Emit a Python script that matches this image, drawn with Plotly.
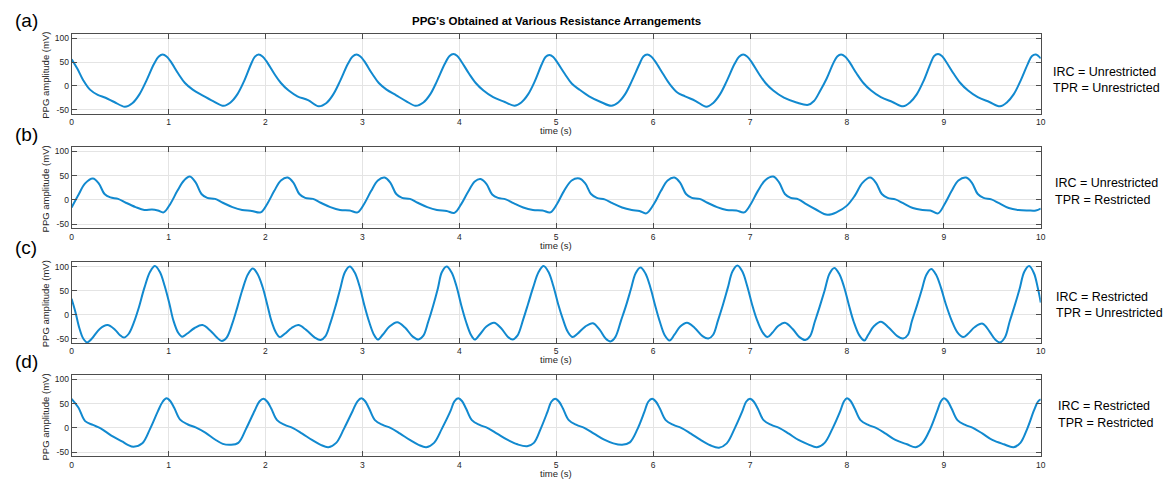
import plotly.graph_objects as go

# ---------------- data ----------------
TIME_TICKS = [0, 1, 2, 3, 4, 5, 6, 7, 8, 9, 10]
AMP_TICKS = [-50, 0, 50, 100]

# (a) IRC = Unrestricted, TPR = Unrestricted
t_a = [0.00, 0.06, 0.12, 0.19, 0.27, 0.35, 0.44, 0.55, 0.63, 0.70, 0.77, 0.85, 0.90, 0.94,
       0.98, 1.02, 1.10, 1.17, 1.25, 1.35, 1.46, 1.57, 1.64, 1.71, 1.78, 1.85, 1.89, 1.93,
       1.97, 2.01, 2.09, 2.16, 2.24, 2.33, 2.44, 2.55, 2.63, 2.70, 2.77, 2.85, 2.90, 2.94,
       2.98, 3.02, 3.10, 3.17, 3.25, 3.35, 3.45, 3.55, 3.63, 3.70, 3.77, 3.85, 3.90, 3.94,
       3.98, 4.02, 4.10, 4.17, 4.25, 4.35, 4.47, 4.57, 4.64, 4.71, 4.78, 4.85, 4.89, 4.93,
       4.97, 5.01, 5.09, 5.16, 5.24, 5.34, 5.46, 5.57, 5.64, 5.71, 5.78, 5.86, 5.90, 5.94,
       5.98, 6.02, 6.10, 6.17, 6.25, 6.33, 6.44, 6.55, 6.62, 6.69, 6.76, 6.84, 6.89, 6.93,
       6.97, 7.01, 7.09, 7.16, 7.24, 7.35, 7.48, 7.60, 7.66, 7.72, 7.79, 7.86, 7.90, 7.94,
       7.98, 8.02, 8.10, 8.17, 8.25, 8.35, 8.47, 8.58, 8.65, 8.72, 8.79, 8.86, 8.90, 8.94,
       8.98, 9.02, 9.10, 9.17, 9.25, 9.35, 9.47, 9.58, 9.65, 9.72, 9.79, 9.87, 9.91, 9.95, 10.00]
v_a = [56, 36, 12, -8, -19, -25, -34, -44, -36, -18, 10, 46, 62, 66,
       62, 52, 26, 6, -8, -20, -32, -42, -35, -18, 10, 45, 61, 66,
       62, 52, 26, 6, -10, -22, -30, -43, -36, -18, 10, 46, 62, 66,
       62, 52, 26, 6, -8, -20, -32, -42, -35, -18, 10, 46, 63, 67,
       63, 52, 26, 6, -10, -24, -34, -42, -35, -18, 10, 45, 61, 65,
       61, 50, 25, 5, -8, -22, -34, -42, -35, -18, 10, 46, 62, 66,
       62, 52, 26, 4, -14, -22, -32, -44, -36, -18, 10, 46, 62, 66,
       62, 52, 26, 6, -10, -25, -35, -40, -32, -12, 15, 48, 62, 66,
       62, 52, 26, 6, -10, -24, -34, -43, -35, -18, 10, 46, 63, 67,
       63, 52, 26, 6, -10, -24, -34, -43, -35, -18, 10, 48, 63, 66, 58]

# (b) IRC = Unrestricted, TPR = Restricted
t_b = [0.00, 0.07, 0.14, 0.22, 0.28, 0.34, 0.40, 0.48, 0.56, 0.66, 0.75, 0.83, 0.89, 0.95,
       1.02, 1.09, 1.16, 1.22, 1.28, 1.34, 1.40, 1.48, 1.56, 1.66, 1.76, 1.86, 1.95,
       2.02, 2.09, 2.16, 2.23, 2.29, 2.35, 2.41, 2.49, 2.57, 2.67, 2.77, 2.87, 2.95,
       3.02, 3.09, 3.16, 3.23, 3.29, 3.35, 3.41, 3.49, 3.57, 3.67, 3.77, 3.87, 3.95,
       4.02, 4.09, 4.16, 4.22, 4.28, 4.34, 4.40, 4.48, 4.56, 4.66, 4.76, 4.86, 4.94,
       5.01, 5.08, 5.16, 5.24, 5.30, 5.36, 5.42, 5.50, 5.58, 5.68, 5.78, 5.86, 5.93,
       6.01, 6.08, 6.15, 6.22, 6.28, 6.34, 6.40, 6.48, 6.56, 6.66, 6.76, 6.86, 6.94,
       7.01, 7.08, 7.16, 7.24, 7.30, 7.36, 7.42, 7.50, 7.58, 7.68, 7.80, 7.90,
       8.00, 8.08, 8.16, 8.24, 8.30, 8.36, 8.42, 8.50, 8.58, 8.68, 8.78, 8.86, 8.94,
       9.01, 9.08, 9.15, 9.23, 9.29, 9.35, 9.41, 9.49, 9.57, 9.67, 9.77, 9.87, 9.95, 10.00]
v_b = [-16, 10, 34, 44, 34, 12, 5, 2, -6, -15, -21, -20, -22, -26,
       -8, 18, 40, 48, 36, 12, 4, 2, -6, -15, -21, -23, -26,
       -8, 18, 40, 46, 35, 12, 4, 2, -6, -15, -21, -22, -26,
       -8, 18, 40, 46, 35, 12, 4, 2, -6, -15, -21, -23, -27,
       -9, 16, 38, 43, 33, 11, 4, 1, -7, -16, -21, -22, -26,
       -8, 18, 40, 44, 34, 12, 4, 1, -7, -16, -21, -23, -28,
       -8, 18, 40, 46, 35, 12, 4, 2, -6, -15, -21, -22, -26,
       -8, 18, 41, 48, 36, 12, 4, 1, -9, -20, -31, -25,
       -12, 8, 35, 46, 35, 12, 4, 1, -7, -17, -21, -22, -28,
       -8, 18, 40, 46, 35, 12, 4, 1, -7, -17, -21, -22, -22, -18]

# (c) IRC = Restricted, TPR = Unrestricted
t_c = [0.00, 0.04, 0.08, 0.12, 0.16, 0.21, 0.29, 0.37, 0.45, 0.50, 0.54, 0.59, 0.64, 0.69, 0.75, 0.81, 0.86,
       0.91, 0.96, 1.01, 1.05, 1.10, 1.14, 1.19, 1.27, 1.35, 1.43, 1.50, 1.55, 1.60, 1.66, 1.71, 1.76, 1.82, 1.87,
       1.92, 1.97, 2.02, 2.06, 2.11, 2.15, 2.20, 2.27, 2.34, 2.42, 2.51, 2.57, 2.62, 2.67, 2.72, 2.77, 2.82, 2.87,
       2.92, 2.97, 3.02, 3.07, 3.12, 3.16, 3.21, 3.28, 3.36, 3.44, 3.52, 3.58, 3.63, 3.68, 3.73, 3.78, 3.82, 3.87,
       3.92, 3.97, 4.02, 4.07, 4.12, 4.16, 4.21, 4.28, 4.36, 4.43, 4.50, 4.55, 4.60, 4.66, 4.71, 4.76, 4.82, 4.87,
       4.92, 4.97, 5.02, 5.07, 5.12, 5.17, 5.22, 5.30, 5.38, 5.45, 5.51, 5.56, 5.61, 5.67, 5.72, 5.77, 5.82, 5.87,
       5.92, 5.97, 6.02, 6.07, 6.12, 6.17, 6.22, 6.28, 6.35, 6.43, 6.51, 6.57, 6.62, 6.67, 6.72, 6.77, 6.82, 6.87,
       6.92, 6.97, 7.02, 7.07, 7.13, 7.18, 7.23, 7.29, 7.36, 7.44, 7.51, 7.57, 7.62, 7.67, 7.72, 7.77, 7.82, 7.87,
       7.92, 7.97, 8.02, 8.07, 8.13, 8.18, 8.22, 8.28, 8.35, 8.43, 8.52, 8.58, 8.63, 8.67, 8.72, 8.77, 8.82, 8.87,
       8.92, 8.97, 9.02, 9.08, 9.14, 9.20, 9.25, 9.32, 9.40, 9.47, 9.53, 9.58, 9.63, 9.68, 9.73, 9.78, 9.83, 9.88,
       9.93, 9.97, 10.00]
v_c = [33, 5, -28, -50, -58, -50, -30, -22, -32, -43, -48, -40, -18, 12, 55, 89, 101,
       89, 60, 22, -12, -38, -46, -40, -28, -22, -33, -48, -55, -48, -18, 15, 50, 84, 96,
       84, 58, 20, -12, -38, -47, -40, -28, -22, -32, -48, -53, -45, -18, 15, 52, 88, 100,
       88, 60, 20, -15, -42, -52, -42, -25, -16, -27, -46, -52, -44, -15, 18, 55, 88, 100,
       88, 60, 20, -15, -42, -52, -42, -25, -17, -28, -46, -52, -44, -10, 22, 55, 89, 101,
       89, 60, 22, -10, -36, -47, -40, -25, -18, -32, -50, -56, -47, -12, 18, 52, 86, 98,
       86, 58, 20, -15, -43, -54, -42, -25, -17, -28, -45, -50, -42, -12, 20, 55, 90, 102,
       90, 60, 22, -10, -37, -47, -38, -24, -17, -30, -47, -53, -45, -14, 17, 50, 85, 97,
       85, 58, 20, -15, -44, -54, -42, -24, -15, -27, -45, -50, -42, -14, 17, 50, 83, 95,
       83, 56, 22, -12, -37, -47, -40, -26, -19, -35, -52, -58, -48, -14, 18, 52, 89, 101,
       86, 55, 25]

# (d) IRC = Restricted, TPR = Restricted
t_d = [0.00, 0.07, 0.14, 0.22, 0.30, 0.41, 0.52, 0.58, 0.64, 0.73, 0.81, 0.89, 0.94, 0.98,
       1.02, 1.06, 1.12, 1.20, 1.28, 1.38, 1.48, 1.56, 1.64, 1.72, 1.80, 1.89, 1.94, 1.98,
       2.02, 2.06, 2.12, 2.20, 2.28, 2.38, 2.48, 2.57, 2.65, 2.73, 2.81, 2.90, 2.95, 2.99,
       3.03, 3.07, 3.13, 3.21, 3.29, 3.39, 3.49, 3.58, 3.66, 3.74, 3.82, 3.91, 3.95, 3.99,
       4.03, 4.07, 4.13, 4.21, 4.29, 4.39, 4.49, 4.60, 4.70, 4.77, 4.84, 4.91, 4.95, 4.99,
       5.03, 5.07, 5.13, 5.21, 5.29, 5.39, 5.49, 5.59, 5.68, 5.76, 5.84, 5.91, 5.95, 5.99,
       6.03, 6.07, 6.13, 6.21, 6.29, 6.39, 6.49, 6.59, 6.68, 6.76, 6.84, 6.92, 6.96, 7.00,
       7.04, 7.08, 7.14, 7.22, 7.30, 7.40, 7.50, 7.60, 7.69, 7.77, 7.85, 7.93, 7.97, 8.00,
       8.04, 8.08, 8.14, 8.22, 8.30, 8.40, 8.50, 8.62, 8.71, 8.78, 8.86, 8.93, 8.97, 9.00,
       9.04, 9.08, 9.14, 9.22, 9.30, 9.40, 9.50, 9.62, 9.72, 9.79, 9.86, 9.93, 9.97, 10.00]
v_d = [60, 42, 14, 6, -1, -16, -28, -35, -39, -32, -2, 34, 54, 61,
       55, 41, 17, 7, 1, -10, -24, -33, -35, -31, -2, 36, 55, 60,
       54, 40, 16, 6, 0, -12, -25, -35, -40, -31, -2, 35, 55, 61,
       55, 40, 16, 6, 0, -12, -25, -35, -40, -31, -2, 35, 55, 61,
       55, 40, 16, 6, 0, -12, -24, -34, -38, -31, -2, 33, 54, 60,
       54, 40, 16, 6, 0, -12, -24, -32, -35, -30, -2, 33, 54, 60,
       54, 40, 16, 6, 0, -12, -25, -36, -41, -32, -2, 34, 54, 60,
       54, 40, 16, 6, 0, -12, -25, -34, -40, -31, -2, 34, 55, 61,
       55, 40, 16, 6, 0, -12, -25, -34, -40, -31, -2, 34, 55, 61,
       55, 40, 16, 6, 0, -12, -25, -34, -40, -31, -2, 36, 54, 59]

SERIES = [(t_a, v_a), (t_b, v_b), (t_c, v_c), (t_d, v_d)]
PANEL_LABELS = ["(a)", "(b)", "(c)", "(d)"]
CONDITIONS = [("IRC = Unrestricted", "TPR = Unrestricted"),
              ("IRC = Unrestricted", "TPR = Restricted"),
              ("IRC = Restricted", "TPR = Unrestricted"),
              ("IRC = Restricted", "TPR = Restricted")]
TITLE = "PPG's Obtained at Various Resistance Arrangements"
X_TITLE = "time (s)"
Y_TITLE = "PPG amplitude (mV)"

# ---------------- layout (pixel geometry of the 1172x484 canvas) ----------------
W, H = 1172, 484
X0, X1 = 70, 1045
PANEL_TOPS = [33.3, 146.7, 262.3, 375.7]
PANEL_BOTS = [113.3, 228.3, 343.3, 457.3]
LABEL_Y = [20, 134, 248, 362]
COND_Y = [(71, 87.5), (183, 200), (297, 313.5), (407, 423.5)]
COND_X = [1055, 1057, 1058, 1060]

def px(x):
    return x / W

def py(y):
    return 1 - y / H

FONT = "Liberation Sans, Arial, Helvetica, sans-serif"
LINE_COLOR = "#1189cf"
AXIS_COLOR = "#4d4d4d"
GRID_COLOR = "#e4e4e4"
TEXT_COLOR = "#262626"

fig = go.Figure()
annotations = []
layout = dict(
    width=W, height=H,
    margin=dict(l=0, r=0, t=0, b=0),
    paper_bgcolor="white", plot_bgcolor="white",
    showlegend=False,
    font=dict(family=FONT, color=TEXT_COLOR),
)

for i, (tt, vv) in enumerate(SERIES):
    n = "" if i == 0 else str(i + 1)
    fig.add_trace(go.Scatter(
        x=tt, y=vv, mode="lines",
        line=dict(color=LINE_COLOR, width=2, shape="spline", smoothing=1.0),
        xaxis="x" + n, yaxis="y" + n, hoverinfo="skip",
    ))
    common = dict(
        showgrid=True, gridcolor=GRID_COLOR, gridwidth=1,
        zeroline=False, showline=True, linecolor=AXIS_COLOR, linewidth=1,
        mirror="ticks", ticks="inside", ticklen=5, tickcolor=AXIS_COLOR,
        tickwidth=1, tickfont=dict(size=8.5, color=TEXT_COLOR, family=FONT),
    )
    layout["xaxis" + n] = dict(
        domain=[px(X0), px(X1)], anchor="y" + n, range=[0, 10],
        tickmode="array", tickvals=TIME_TICKS,
        ticktext=[str(v) for v in TIME_TICKS], **common)
    layout["yaxis" + n] = dict(
        domain=[py(PANEL_BOTS[i]), py(PANEL_TOPS[i])], anchor="x" + n,
        range=[-59, 109], tickmode="array", tickvals=AMP_TICKS,
        ticktext=[str(v) for v in AMP_TICKS], **common)

    mid = (PANEL_TOPS[i] + PANEL_BOTS[i]) / 2
    annotations.append(dict(
        text=Y_TITLE, textangle=-90, x=px(44), y=py(mid + 1),
        xref="paper", yref="paper", showarrow=False,
        xanchor="center", yanchor="middle",
        font=dict(size=9.5, color=TEXT_COLOR, family=FONT)))
    annotations.append(dict(
        text=X_TITLE, x=px((X0 + X1) / 2), y=py(PANEL_BOTS[i] + 17),
        xref="paper", yref="paper", showarrow=False,
        xanchor="center", yanchor="middle",
        font=dict(size=9.5, color=TEXT_COLOR, family=FONT)))
    annotations.append(dict(
        text=PANEL_LABELS[i], x=px(11), y=py(LABEL_Y[i]),
        xref="paper", yref="paper", showarrow=False,
        xanchor="left", yanchor="middle",
        font=dict(size=19, color="black", family=FONT)))
    for j in range(2):
        annotations.append(dict(
            text=CONDITIONS[i][j], x=px(COND_X[i]), y=py(COND_Y[i][j]),
            xref="paper", yref="paper", showarrow=False,
            xanchor="left", yanchor="middle",
            font=dict(size=12.5, color="black", family=FONT)))

annotations.append(dict(
    text="<b>" + TITLE + "</b>", x=px((X0 + X1) / 2), y=py(20),
    xref="paper", yref="paper", showarrow=False,
    xanchor="center", yanchor="middle",
    font=dict(size=11.5, color="black", family=FONT)))

layout["annotations"] = annotations
fig.update_layout(**layout)
fig.write_html(
    "out.html",
    config={"displayModeBar": False},
    post_script="document.body.style.margin='0';document.body.style.overflow='hidden';",
)
